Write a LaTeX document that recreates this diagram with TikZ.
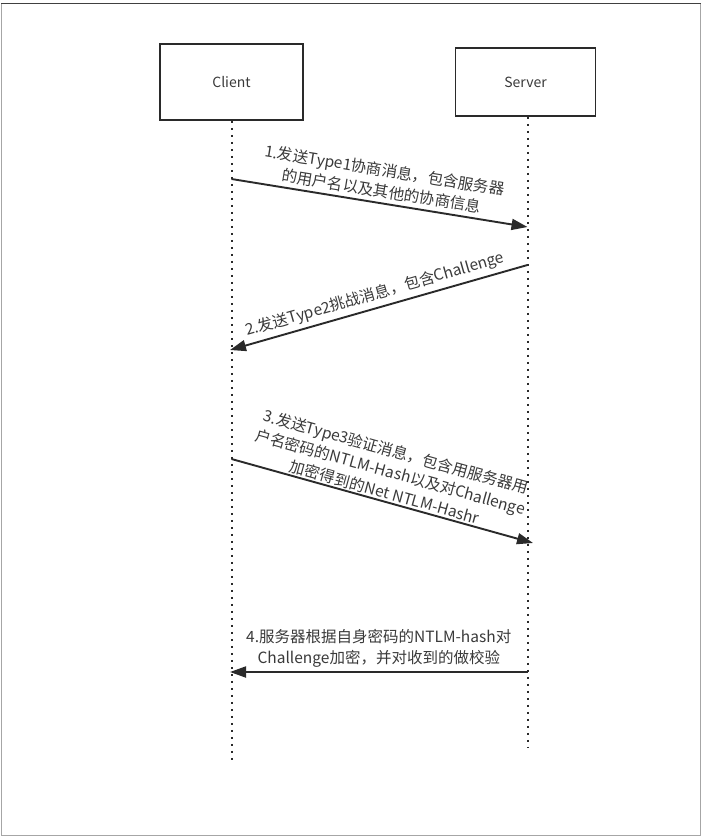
\documentclass[tikz,border=0pt]{standalone}
\usepackage{fontspec}
\setmainfont{Noto Sans CJK SC}
\usetikzlibrary{arrows.meta}
\definecolor{ink}{HTML}{2A2A2A}
\definecolor{txt}{HTML}{3A3A3A}
\tikzset{
  actor/.style={draw=ink, line width=1.8pt, fill=white, inner sep=0pt, font=\fontsize{14}{16}\selectfont, text=txt},
  lifeline/.style={draw=ink, line width=2pt, dash pattern=on 2pt off 5pt},
  msg/.style={draw=ink, line width=1.9pt, -{Triangle[length=16pt,width=11pt]}},
  lbl/.style={font=\fontsize{15.5}{21}\selectfont, text=txt, align=center, inner sep=0pt, sloped}
}
\begin{document}
\begin{tikzpicture}[x=1pt,y=-1pt]
\useasboundingbox (0,0) rectangle (702,837);
\fill[white] (0,0) rectangle (702,837);
\draw[gray!70, line width=1.2pt] (1.5,3.5) rectangle (700.5,835.5);
\draw[black!75, line width=1.6pt] (1,3.5) -- (701,3.5);

\node[actor, minimum width=143pt, minimum height=76pt] (client) at (231.5,82) {Client};
\node[actor, minimum width=140pt, minimum height=68pt] (server) at (525.5,82) {Server};

\coordinate (cend) at (231.5,762);
\coordinate (send) at (527.5,748);
\draw[lifeline] (client.south) -- (cend);
\draw[lifeline] (server.south -| send) -- (send);

\coordinate (c1) at (231.5,179);
\coordinate (s1) at (527.5,227);
\coordinate (s2) at (527.5,265);
\coordinate (c2) at (230,350);
\coordinate (c3) at (231.5,459);
\coordinate (s3) at (533,543);
\coordinate (s4) at (527.5,672);
\coordinate (c4) at (230,672);

\draw[msg] (c1) -- node[lbl, midway, above=4pt] {1.发送Type1协商消息，包含服务器\\的用户名以及其他的协商信息} (s1);
\draw[msg] (s2) -- node[lbl, midway, above=4pt] {2.发送Type2挑战消息，包含Challenge} (c2);
\draw[msg] (c3) -- node[lbl, midway, above=1pt] {3.发送Type3验证消息，包含用服务器用\\户名密码的NTLM-Hash以及对Challenge\\加密得到的Net NTLM-Hashr} (s3);
\draw[msg] (s4) -- node[lbl, midway, above=4pt] {4.服务器根据自身密码的NTLM-hash对\\Challenge加密，并对收到的做校验} (c4);
\end{tikzpicture}
\end{document}
